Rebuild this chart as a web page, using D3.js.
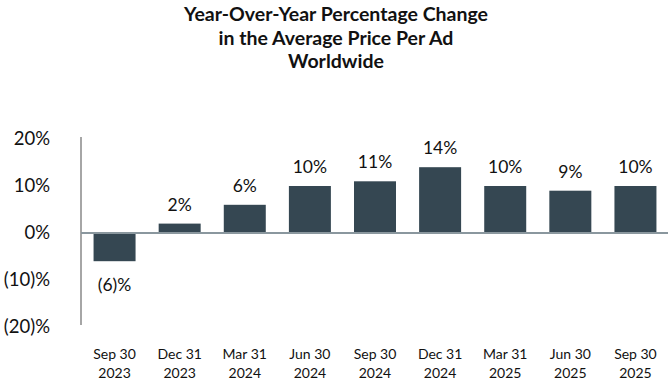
<!DOCTYPE html>
<html><head><meta charset="utf-8">
<script src="https://cdn.jsdelivr.net/npm/d3@7"></script>
<style>body{margin:0;background:#fff}svg{display:block}text{font-family:Lato,"Open Sans",sans-serif;fill:#111}</style>
</head><body>
<script>
const titleLines = ["Year-Over-Year Percentage Change","in the Average Price Per Ad","Worldwide"];
const categories = ["Sep 30|2023","Dec 31|2023","Mar 31|2024","Jun 30|2024","Sep 30|2024","Dec 31|2024","Mar 31|2025","Jun 30|2025","Sep 30|2025"];
const values = [-6, 2, 6, 10, 11, 14, 10, 9, 10];
const valueLabels = ["(6)%","2%","6%","10%","11%","14%","10%","9%","10%"];
const yTicks = [20, 10, 0, -10, -20];
const yTickLabels = ["20%","10%","0%","(10)%","(20)%"];

const W = 672, H = 384;
const svg = d3.select("body").append("svg").attr("width", W).attr("height", H);

const x = d3.scaleBand().domain(categories).range([82, 668]).paddingInner(0.355).paddingOuter(0.1775);
const y = d3.scaleLinear().domain([-20, 20]).range([327, 139]);

// title
svg.append("g").selectAll("text").data(titleLines).join("text")
  .attr("x", 336).attr("y", (d, i) => 21 + i * 23.5)
  .attr("text-anchor", "middle").style("font-weight", "bold").style("font-size", "19.5px")
  .text(d => d);

// y axis labels
const yAxis = d3.axisLeft(y).tickValues(yTicks).tickSize(0).tickPadding(0)
  .tickFormat(d => yTickLabels[yTicks.indexOf(d)]);
const gy = svg.append("g").attr("transform", "translate(50,0)").call(yAxis);
gy.select(".domain").remove();
gy.selectAll("text").style("font-size", "18.5px").style("font-family", "Lato, 'Open Sans', sans-serif").attr("fill", "#111");

// vertical axis line
svg.append("line").attr("x1", 81).attr("x2", 81).attr("y1", y(20) - 2).attr("y2", y(-20) - 2)
  .attr("stroke", "#a6a6a6").attr("stroke-width", 2);

// bars
svg.append("g").selectAll("rect").data(values).join("rect")
  .attr("x", (d, i) => x(categories[i]))
  .attr("width", x.bandwidth())
  .attr("y", d => y(Math.max(0, d)))
  .attr("height", d => Math.abs(y(d) - y(0)))
  .attr("fill", "#354752");

// zero line
svg.append("line").attr("x1", 81).attr("x2", 668).attr("y1", y(0)).attr("y2", y(0))
  .attr("stroke", "#8a979e").attr("stroke-width", 2);

// value labels
svg.append("g").selectAll("text").data(values).join("text")
  .attr("x", (d, i) => x(categories[i]) + x.bandwidth() / 2)
  .attr("y", d => d >= 0 ? y(d) - 13 : y(d) + 30)
  .attr("text-anchor", "middle").style("font-size", "17.5px")
  .text((d, i) => valueLabels[i]);

// x labels
const gx = svg.append("g");
categories.forEach(c => {
  const parts = c.split("|");
  const cx = x(c) + x.bandwidth() / 2;
  const t = gx.append("text").attr("x", cx).attr("text-anchor", "middle").style("font-size", "14px");
  t.append("tspan").attr("x", cx).attr("y", 359).text(parts[0]);
  t.append("tspan").attr("x", cx).attr("y", 378).text(parts[1]);
});
</script>
</body></html>
